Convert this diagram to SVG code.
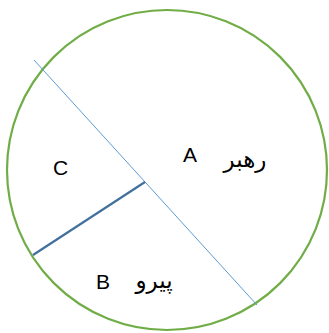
<svg xmlns="http://www.w3.org/2000/svg" width="329" height="333" viewBox="0 0 329 333">
<style>
.t{font-family:"Liberation Sans","DejaVu Sans",sans-serif;font-size:21px;fill:#000}
.ar{font-family:"DejaVu Sans","Liberation Sans",sans-serif;font-size:23px;fill:#000;text-anchor:middle}
</style>
<rect width="329" height="333" fill="#fff"/>
<g id="circle"><circle cx="167" cy="170" r="160" fill="none" stroke="#70AD47" stroke-width="2.2"/></g>
<g id="connectors">
<line x1="34" y1="60" x2="257" y2="305" stroke="#5B9BD5" stroke-width="1"/>
<line x1="145" y1="182" x2="33" y2="255" stroke="#41719C" stroke-width="2.2"/>
</g>
<g id="A"><text class="t" x="183" y="162">A</text><text class="ar" x="245" y="167">رهبر</text></g>
<g id="B"><text class="t" x="96" y="289">B</text><text class="ar" x="154" y="288">پیرو</text></g>
<g id="C"><text class="t" x="53" y="175">C</text></g>
</svg>
